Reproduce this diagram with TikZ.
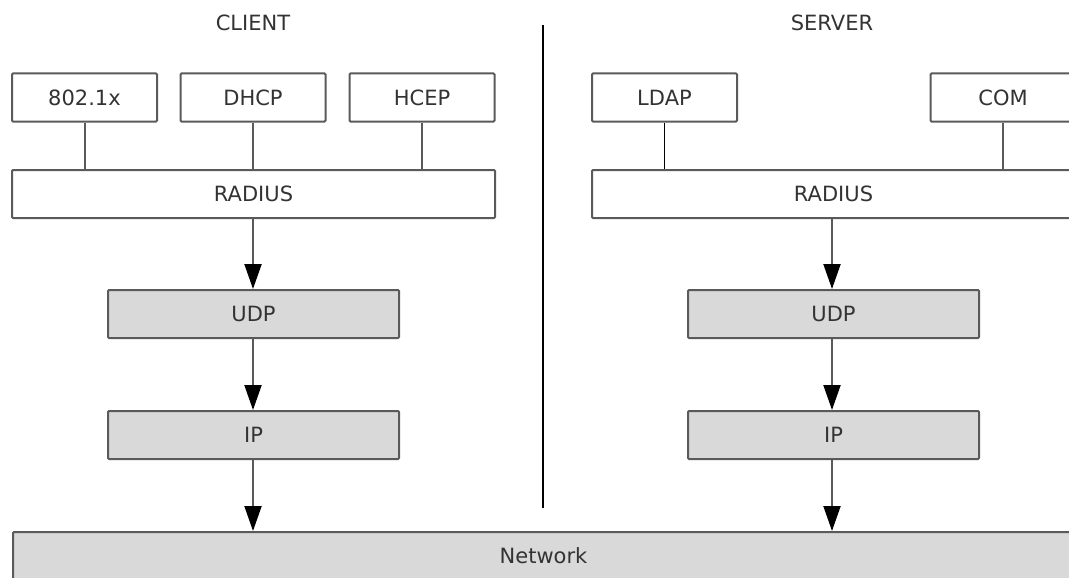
\documentclass[tikz,border=0pt]{standalone}
\usepackage{fontspec}
\setmainfont{DejaVu Sans}
\usetikzlibrary{arrows.meta}
\definecolor{edge}{RGB}{90,90,90}
\definecolor{txt}{RGB}{51,51,51}
\definecolor{shade}{RGB}{217,217,217}
\tikzset{
  box/.style={draw=edge, line width=2pt, rounded corners=1pt, fill=white, text=txt,
    font=\fontsize{21}{25}\selectfont, inner sep=0pt, minimum height=48pt},
  graybox/.style={box, fill=shade},
  link/.style={draw=edge, line width=2pt},
  arr/.style={draw=edge, line width=2pt, -{Triangle[width=17pt,length=25pt,color=black]}},
  title/.style={text=txt, font=\fontsize{21}{25}\selectfont, inner sep=0pt}
}
\begin{document}
\begin{tikzpicture}[x=1pt,y=-1pt]
\useasboundingbox (0,0) rectangle (1069,578);
\clip (0,0) rectangle (1069,578);
% titles
\node[title] (client) at (253,22.5) {CLIENT};
\node[title] (server) at (832,22.5) {SERVER};
% divider
\coordinate (dtop) at (543,25);
\coordinate (dbot) at (543,508);
\draw[black, line width=1.2pt] (dtop) -- (dbot);
% client side
\node[box, minimum width=145pt] (x8021) at (84.5,97.5) {802.1x};
\node[box, minimum width=145pt] (dhcp) at (253,97.5) {DHCP};
\node[box, minimum width=145pt] (hcep) at (422,97.5) {HCEP};
\node[box, minimum width=483pt] (radL) at (253.5,194) {RADIUS};
\node[graybox, minimum width=291pt] (udpL) at (253.5,314) {UDP};
\node[graybox, minimum width=291pt] (ipL) at (253.5,435) {IP};
% server side
\node[box, minimum width=145pt] (ldap) at (664.5,97.5) {LDAP};
\node[box, minimum width=145pt] (com) at (1003,97.5) {COM};
\node[box, minimum width=483pt] (radR) at (833.5,194) {RADIUS};
\node[graybox, minimum width=291pt] (udpR) at (833.5,314) {UDP};
\node[graybox, minimum width=291pt] (ipR) at (833.5,435) {IP};
% network
\node[graybox, minimum width=1061pt, minimum height=48pt, anchor=north west] (net) at (12,531) {Network};
% connectors client
\draw[link] (x8021.south) -- (x8021.south |- radL.north);
\draw[link] (dhcp.south) -- (dhcp.south |- radL.north);
\draw[link] (hcep.south) -- (hcep.south |- radL.north);
\draw[arr] (253,218) coordinate (a1) -- (a1 |- udpL.north);
\draw[arr] (253,338) coordinate (a2) -- (a2 |- ipL.north);
\draw[arr] (253,459) coordinate (a3) -- (a3 |- net.north);
% connectors server
\draw[black, line width=1.4pt] (ldap.south) -- (ldap.south |- radR.north);
\draw[link] (com.south) -- (com.south |- radR.north);
\draw[arr] (832,218) coordinate (b1) -- (b1 |- udpR.north);
\draw[arr] (832,338) coordinate (b2) -- (b2 |- ipR.north);
\draw[arr] (832,459) coordinate (b3) -- (b3 |- net.north);
\end{tikzpicture}
\end{document}
